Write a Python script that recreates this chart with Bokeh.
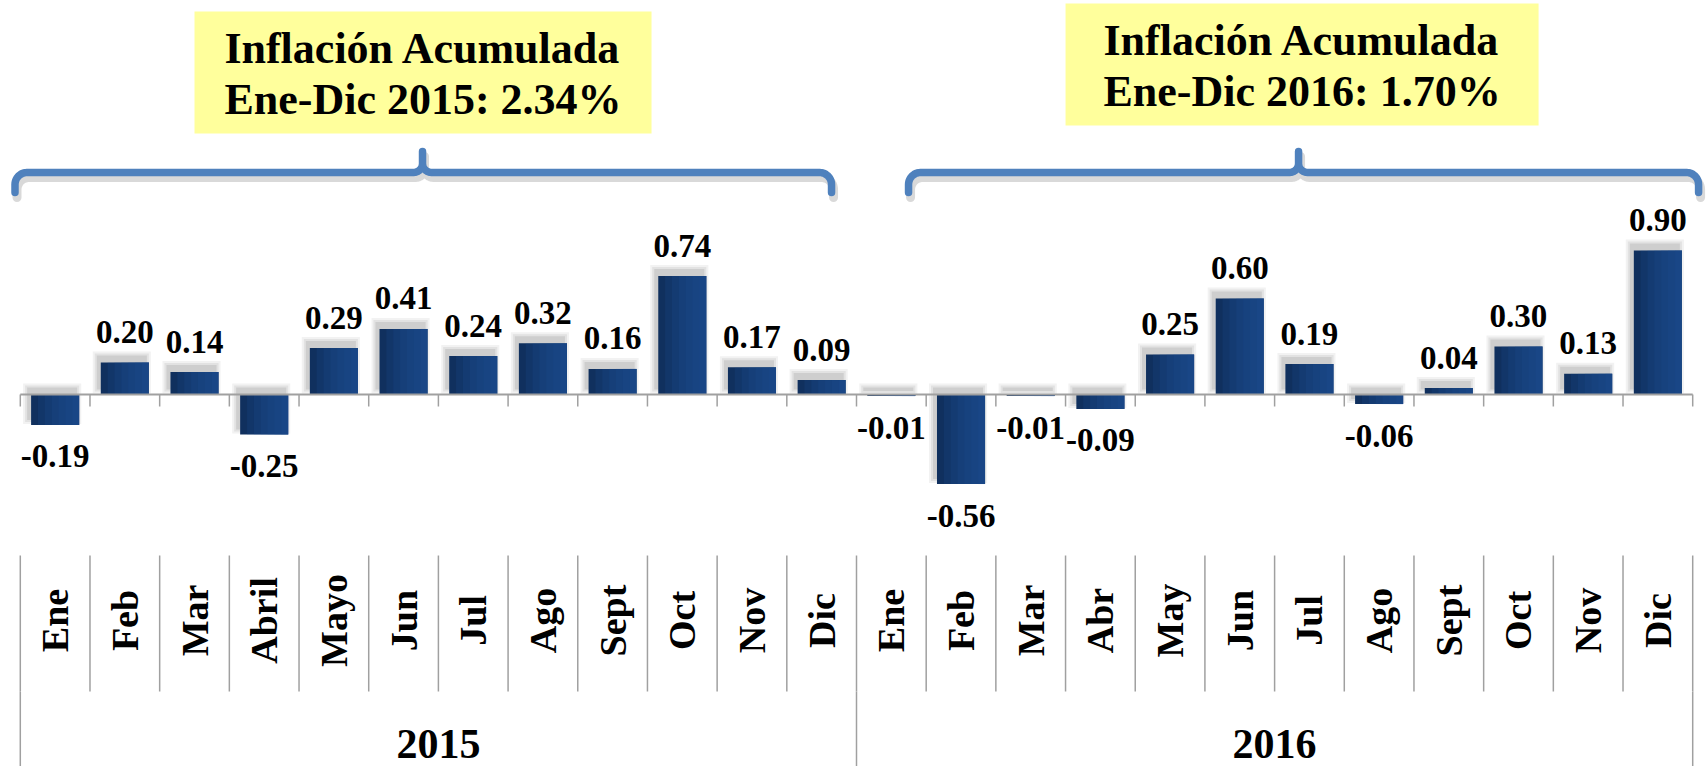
import math
import numpy as np
from bokeh.plotting import figure
from bokeh.models import FactorRange, Range1d, ColumnDataSource
from bokeh.core.properties import value
from bokeh.embed import file_html
from bokeh.resources import INLINE

# ---------------- data ----------------
years = ["2015", "2016"]
months_2015 = ["Ene", "Feb", "Mar", "Abril", "Mayo", "Jun", "Jul", "Ago", "Sept", "Oct", "Nov", "Dic"]
months_2016 = ["Ene", "Feb", "Mar", "Abr", "May", "Jun", "Jul", "Ago", "Sept", "Oct", "Nov", "Dic"]
values_2015 = [-0.19, 0.20, 0.14, -0.25, 0.29, 0.41, 0.24, 0.32, 0.16, 0.74, 0.17, 0.09]
values_2016 = [-0.01, -0.56, -0.01, -0.09, 0.25, 0.60, 0.19, -0.06, 0.04, 0.30, 0.13, 0.90]
note_2015 = ["Inflación Acumulada", "Ene-Dic 2015: 2.34%"]
note_2016 = ["Inflación Acumulada", "Ene-Dic 2016: 1.70%"]

# ---------------- layout helpers ----------------
FONT = value("Liberation Serif")
W, H = 1708, 766
K = 160.0          # px per unit of inflation
Z = 394.0          # page y of the zero line
X0 = 19.8          # page x of the first category edge
CW = 69.68         # category width in px
BORDER_L = 4

factors = [(years[0], m) for m in months_2015] + [(years[1], m) for m in months_2016]
vals = values_2015 + values_2016
N = len(factors)
PAD = (X0 - BORDER_L) / CW


def vy(page_y):
    return (Z - page_y) / K


def fx(page_x):
    u = (page_x - X0) / CW
    i = min(max(int(math.floor(u)), 0), N - 1)
    return (factors[i][0], factors[i][1], u - i - 0.5)


def off(f, d):
    return (f[0], f[1], d)


p = figure(width=W, height=H, output_backend="svg", toolbar_location=None,
           x_range=FactorRange(*factors, factor_padding=0, group_padding=0, subgroup_padding=0,
                               range_padding=PAD, range_padding_units="absolute"),
           y_range=Range1d(vy(H), vy(0)),
           x_axis_location=None, y_axis_location=None,
           min_border_left=BORDER_L, min_border_right=0, min_border_top=0, min_border_bottom=0)
p.grid.visible = False
p.outline_line_color = None
p.background_fill_color = "white"
p.border_fill_color = "white"

# ---------------- bars (with soft shadow and a light gradient) ----------------
bw = 0.69
tops = [max(v, 0) for v in vals]
bots = [min(v, 0) for v in vals]
for grow, alpha in [(10, 0.07), (6, 0.09), (2, 0.12)]:
    sx = [off(f, -3.0 / CW) for f in factors]
    p.vbar(x=sx, width=bw + grow / CW,
           top=[t + (6 + grow / 2) / K for t in tops],
           bottom=[b + (6 - grow / 2) / K for b in bots],
           fill_color="#404040", fill_alpha=alpha, line_color=None)

src = ColumnDataSource(dict(x=factors, top=vals,
                            label=[f"{v:.2f}" for v in vals],
                            ly=[v + 30.5 / K if v >= 0 else v - 31.5 / K for v in vals]))
p.vbar(x="x", top="top", bottom=0, width=bw, source=src,
       fill_color="#10305E", line_color=None)
for k in range(1, 7):
    wk = bw * (1 - k / 7.0)
    p.vbar(x=[off(f, bw / 2 - wk / 2) for f in factors], top=vals, bottom=0, width=wk,
           fill_color="#1E5296", fill_alpha=0.2, line_color=None)

p.text(x="x", y="ly", text="label", source=src, text_font=FONT, text_font_style="bold",
       text_font_size="33px", text_align="center", text_baseline="middle",
       text_color="black")

# ---------------- zero axis with ticks ----------------
axis_col = "#A0A0A0"
p.segment(x0=[off(factors[0], -0.5)], x1=[off(factors[-1], 0.5)], y0=[0], y1=[0],
          line_color=axis_col, line_width=2)
edges = [off(f, -0.5) for f in factors] + [off(factors[-1], 0.5)]
p.segment(x0=edges, x1=edges, y0=[0] * len(edges), y1=[vy(Z + 12)] * len(edges),
          line_color=axis_col, line_width=1.5)

# ---------------- category axis (months / years) ----------------
p.segment(x0=edges, x1=edges, y0=[vy(555)] * len(edges), y1=[vy(691)] * len(edges),
          line_color=axis_col, line_width=1.5)
year_edges = [off(factors[0], -0.5), off(factors[12], -0.5), off(factors[-1], 0.5)]
p.segment(x0=year_edges, x1=year_edges, y0=[vy(691)] * 3, y1=[vy(H + 5)] * 3,
          line_color=axis_col, line_width=1.5)

p.text(x=factors, y=[vy(620)] * N, text=[f[1] for f in factors], angle=math.pi / 2,
       text_font=FONT, text_font_style="bold", text_font_size="38px",
       text_align="center", text_baseline="middle", text_color="black")

year_centers = [off(factors[5], 0.5), off(factors[17], 0.5)]
p.text(x=year_centers, y=[vy(743)] * 2, text=years, text_font=FONT, text_font_style="bold",
       text_font_size="42px", text_align="center", text_baseline="middle",
       text_color="black")

# ---------------- braces ----------------
def brace(xa, xb, xc, yl=172, ye=192, yp=151, re=12, rm=9):
    pts = [(xa, ye), (xa, yl + re)]
    for t in np.linspace(math.pi, 1.5 * math.pi, 12):
        pts.append((xa + re + re * math.cos(t), yl + re + re * math.sin(t)))
    pts.append((xc - rm, yl))
    for t in np.linspace(0.5 * math.pi, 0, 10):
        pts.append((xc - rm + rm * math.cos(t), yl - rm + rm * math.sin(t)))
    pts.append((xc, yp))
    for t in np.linspace(math.pi, 0.5 * math.pi, 10):
        pts.append((xc + rm + rm * math.cos(t), yl - rm + rm * math.sin(t)))
    pts.append((xb - re, yl))
    for t in np.linspace(1.5 * math.pi, 2 * math.pi, 12):
        pts.append((xb - re + re * math.cos(t), yl + re + re * math.sin(t)))
    pts.append((xb, ye))
    return pts


for (xa, xb, xc) in [(14.5, 831, 422), (908, 1698, 1298)]:
    pts = brace(xa, xb, xc)
    p.line(x=[fx(a + 2) for a, b in pts], y=[vy(b + 5) for a, b in pts],
           line_color="#808080", line_alpha=0.3, line_width=9, line_join="round", line_cap="round")
    p.line(x=[fx(a) for a, b in pts], y=[vy(b) for a, b in pts],
           line_color="#4F81BD", line_width=7.5, line_join="round", line_cap="round")

# ---------------- yellow notes ----------------
for (l, r, t, b, c1, note) in [(194, 651, 11, 133, 48, note_2015),
                               (1065, 1538, 3, 125, 40, note_2016)]:
    p.quad(left=[fx(l)], right=[fx(r)], top=[vy(t)], bottom=[vy(b)],
           fill_color="#FFFF9C", line_color=None)
    cx = (l + r) / 2
    p.text(x=[fx(cx), fx(cx)], y=[vy(c1), vy(c1 + 51)], text=note,
           text_font=FONT, text_font_style="bold", text_font_size="44px",
           text_align="center", text_baseline="middle", text_color="black")

open("out.html", "w").write(file_html(p, INLINE))
